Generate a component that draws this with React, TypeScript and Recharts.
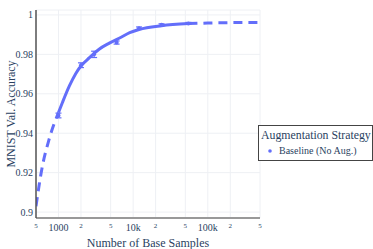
import React from 'react';
import { ComposedChart, Line, Scatter, ErrorBar, XAxis, YAxis, CartesianGrid } from 'recharts';

// fitted curve, split where the dashes start/stop
const lowX = [500, 600, 750, 1000];
const lowY = [0.903, 0.922, 0.937, 0.9505];
const fitX = [1000, 1130, 1400, 1700, 2000, 2600, 3500, 4800, 6900, 9000, 12000, 24000, 55000];
const fitY = [0.9505, 0.9556, 0.964, 0.9702, 0.9741, 0.9783, 0.9826, 0.9857, 0.9887, 0.991, 0.9926, 0.9945, 0.9956];
const highX = [55000, 100000, 200000, 500000];
const highY = [0.9956, 0.9959, 0.9961, 0.9962];

// measured points with error bars
const ptX = [1000, 2000, 3000, 6000, 12000, 24000, 55000];
const ptY = [0.949, 0.9745, 0.98, 0.986, 0.9933, 0.995, 0.9957];
const ptErr = [0.0012, 0.0012, 0.0016, 0.0008, 0.0006, 0.0005, 0.0005];

const xTicks = [500, 1000, 2000, 5000, 10000, 20000, 50000, 100000, 200000, 500000];
const yTicks = [0.9, 0.92, 0.94, 0.96, 0.98, 1];

const BLUE = '#636efa';
const TEXT = '#2a3f5f';
const FONT = '"Liberation Serif", serif';

const toRows = (xs: number[], ys: number[]) => xs.map((x, i) => ({ x, y: ys[i] }));
const lowData = toRows(lowX, lowY);
const fitData = toRows(fitX, fitY);
const highData = toRows(highX, highY);
const ptData = ptX.map((x, i) => ({ x, y: ptY[i], err: ptErr[i] }));

const majorLabel: Record<number, string> = { 1000: '1000', 10000: '10k', 100000: '100k' };

const XTick = (props: any) => {
  const { x, y, payload } = props;
  const v = payload.value as number;
  const major = majorLabel[v];
  if (major) {
    return (
      <text x={x} y={y} dy={12.5} textAnchor="middle" fontSize={10} fill={TEXT} style={{ fontFamily: FONT }}>
        {major}
      </text>
    );
  }
  return (
    <text x={x} y={y} dy={10} textAnchor="middle" fontSize={7} fill={TEXT} style={{ fontFamily: FONT }}>
      {String(v).charAt(0)}
    </text>
  );
};

const Dot = (props: any) => {
  const { cx, cy } = props;
  return <circle cx={cx} cy={cy} r={2} fill={BLUE} />;
};

const LegendBox = () => (
  <div
    style={{
      position: 'absolute',
      left: 258,
      top: 125,
      border: '1px solid #444',
      background: '#fff',
      width: 115,
      height: 36,
      fontFamily: FONT,
      color: TEXT,
      boxSizing: 'border-box',
    }}
  >
    <div style={{ position: 'absolute', left: 2, top: 2, fontSize: 11.8, lineHeight: '14px', whiteSpace: 'nowrap' }}>
      Augmentation Strategy
    </div>
    <svg style={{ position: 'absolute', left: 8, top: 22 }} width={6} height={6}>
      <circle cx={3} cy={3} r={1.8} fill={BLUE} />
    </svg>
    <div style={{ position: 'absolute', left: 20, top: 19, fontSize: 10, lineHeight: '12px', whiteSpace: 'nowrap' }}>
      Baseline (No Aug.)
    </div>
  </div>
);

export default function App() {
  return (
    <div style={{ position: 'absolute', left: 0, top: 0, width: 373, height: 249, background: '#fff' }}>
      <ComposedChart width={373} height={249} margin={{ top: 10, right: 113, left: 0, bottom: 0 }}>
        <CartesianGrid stroke="#eef0f4" strokeWidth={1} />
        <XAxis
          dataKey="x"
          type="number"
          scale="log"
          domain={[500, 500000]}
          ticks={xTicks}
          interval={0}
          allowDataOverflow
          height={31}
          tickLine={false}
          tickSize={0}
          tickMargin={0}
          tick={<XTick />}
          stroke="#999"
          strokeWidth={2}
          label={{
            content: () => (
              <text x={148} y={247} textAnchor="middle" fontSize={12} fill={TEXT} style={{ fontFamily: FONT }}>
                Number of Base Samples
              </text>
            ),
          }}
        />
        <YAxis
          type="number"
          domain={[0.897, 1.0025]}
          ticks={yTicks}
          interval={0}
          allowDataOverflow
          width={36}
          tickLine={false}
          tickSize={0}
          tickMargin={3}
          tick={{ fontSize: 10, fill: TEXT, style: { fontFamily: FONT } }}
          tickFormatter={(v: number) => String(v)}
          stroke="#555"
          strokeWidth={1.5}
          label={{
            content: () => (
              <text
                x={11}
                y={114}
                textAnchor="middle"
                fontSize={12}
                fill={TEXT}
                style={{ fontFamily: FONT }}
                transform="rotate(-90 11 114)"
                dy={4}
              >
                MNIST Val. Accuracy
              </text>
            ),
          }}
        />
        <Line
          data={lowData}
          dataKey="y"
          type="monotone"
          stroke={BLUE}
          strokeWidth={3}
          strokeDasharray="9 6"
          dot={false}
          isAnimationActive={false}
        />
        <Line
          data={fitData}
          dataKey="y"
          type="monotone"
          stroke={BLUE}
          strokeWidth={3}
          dot={false}
          isAnimationActive={false}
        />
        <Line
          data={highData}
          dataKey="y"
          type="monotone"
          stroke={BLUE}
          strokeWidth={3}
          strokeDasharray="9 6"
          dot={false}
          isAnimationActive={false}
        />
        <Scatter data={ptData} dataKey="y" fill={BLUE} shape={<Dot />} isAnimationActive={false}>
          <ErrorBar dataKey="err" direction="y" width={3} stroke={BLUE} strokeWidth={1.2} />
        </Scatter>
      </ComposedChart>
      <LegendBox />
    </div>
  );
}
